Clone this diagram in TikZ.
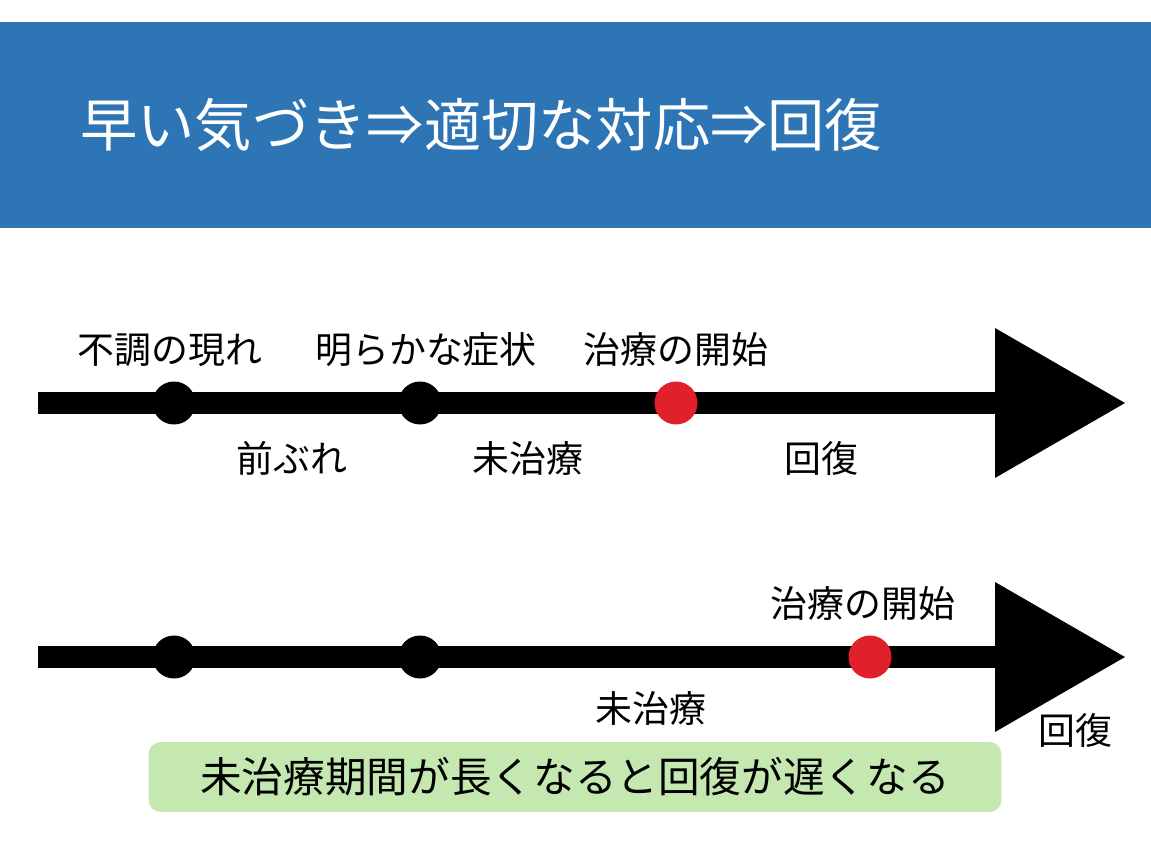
\documentclass[tikz,border=0pt]{standalone}
\usepackage{fontspec}
\setmainfont{Noto Sans CJK JP}
\usepackage{xcolor}
\usetikzlibrary{backgrounds, positioning}

\definecolor{headblue}{HTML}{2E75B6}
\definecolor{notegreen}{HTML}{C5E8B0}
\definecolor{startred}{HTML}{E0202A}

\tikzset{
    eventdot/.style={circle, fill=black, inner sep=0pt, minimum size=0.86cm},
    reddot/.style={eventdot, fill=startred},
    stage/.style={font=\fontsize{21}{25}\selectfont, inner sep=0pt},
    timeline/.style={line width=0.44cm},
}

\begin{document}
\begin{tikzpicture}[x=0.02cm, y=-0.02cm, node distance=1.06cm]
        \useasboundingbox (0,0) rectangle (1151,864);

        \node (header) [fill=headblue, minimum width=23.02cm, minimum height=4.12cm, inner sep=0pt] at (575.5,125) {};
        \node (title) [anchor=west, text=white, font=\fontsize{32.6}{38}\selectfont, inner sep=0pt] at (80,125) {早い気づき⇒適切な対応⇒回復};

        % Upper timeline
        \node (sign1) [eventdot] at (174,403) {};
        \node (symptom1) [eventdot] at (420,403) {};
        \node (care1) [reddot] at (676,403) {};
        \coordinate (start1) at (38,403);
        \coordinate (head1) at (995,403);
        \coordinate (tip1) at (1125,403);

        \node (signlabel) [above of=sign1, xshift=-0.08cm, stage] {不調の現れ};
        \node (symptomlabel) [above of=symptom1, xshift=0.12cm, stage] {明らかな症状};
        \node (carelabel1) [above of=care1, stage] {治療の開始};
        \node (prelabel) [stage] at (292,458) {前ぶれ};
        \node (untreated1) [stage] at (528,458) {未治療};
        \node (recover1) [stage] at (821,458) {回復};

        % Lower timeline
        \node (sign2) [eventdot] at (174,657) {};
        \node (symptom2) [eventdot] at (420,657) {};
        \node (care2) [reddot] at (870,657) {};
        \coordinate (start2) at (38,657);
        \coordinate (head2) at (995,657);
        \coordinate (tip2) at (1125,657);

        \node (carelabel2) [above of=care2, xshift=-0.14cm, stage] {治療の開始};
        \node (untreated2) [stage] at (651,708) {未治療};
        \node (recover2) [stage] at (1075,730) {回復};

        \begin{scope}[on background layer]
            \draw [timeline] (start1) -- (head1);
            \fill ([yshift=1.5cm]head1) -- (tip1) -- ([yshift=-1.5cm]head1) -- cycle;
            \draw [timeline] (start2) -- (head2);
            \fill ([yshift=1.5cm]head2) -- (tip2) -- ([yshift=-1.5cm]head2) -- cycle;
        \end{scope}

        \node (note) [fill=notegreen, rounded corners=0.24cm, minimum width=17.06cm, minimum height=1.4cm, font=\fontsize{23.7}{28}\selectfont] at (575,777) {未治療期間が長くなると回復が遅くなる};

    \end{tikzpicture}
\end{document}
